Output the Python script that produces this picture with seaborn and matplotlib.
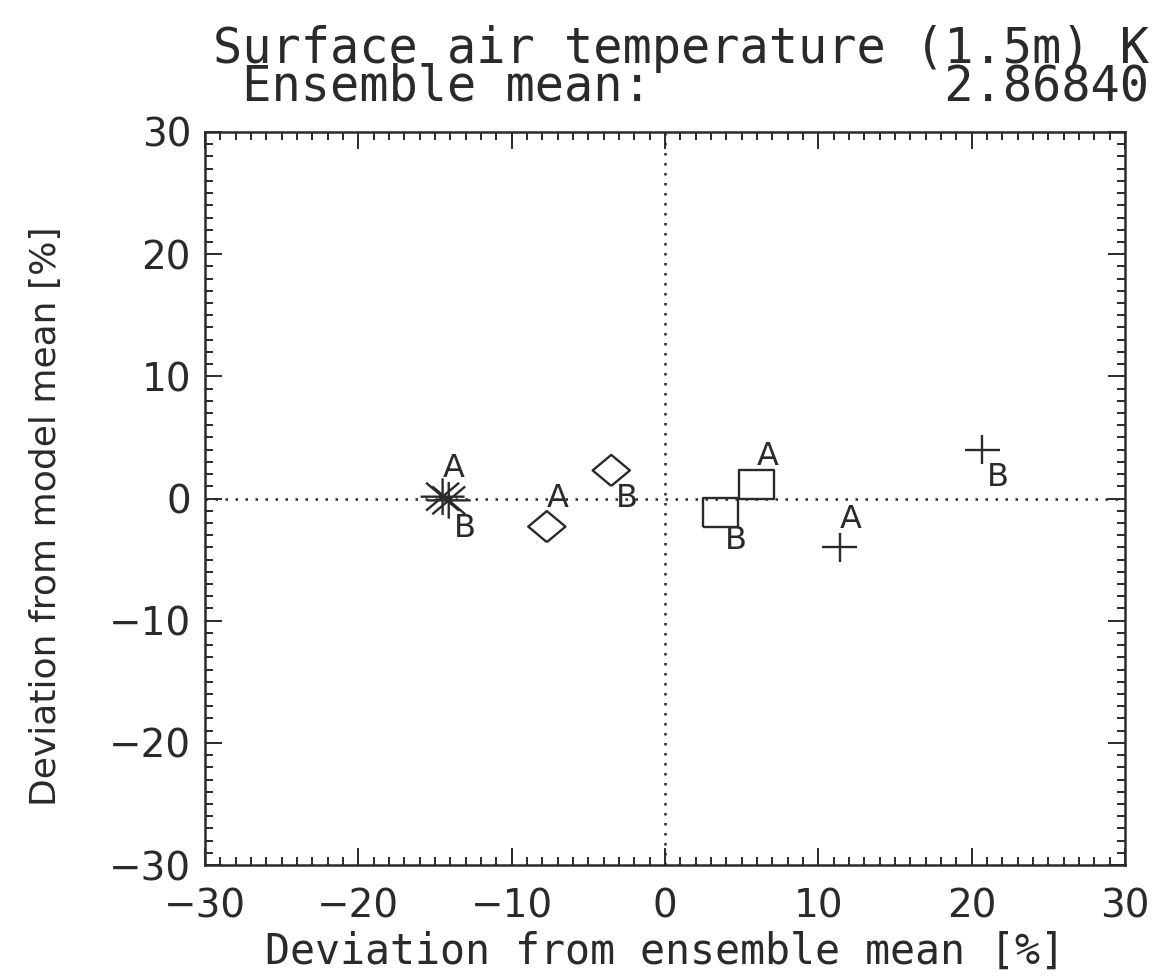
import matplotlib
matplotlib.use('Agg')
import matplotlib.pyplot as plt
import seaborn as sns
import pandas as pd
from matplotlib.path import Path
from matplotlib.ticker import MultipleLocator

# pairs of runs (A / B) for each model symbol
models = ['asterisk', 'diamond', 'square', 'plus']
x_a = [-14.5, -7.7, 6.0, 11.4]
y_a = [0.15, -2.3, 1.15, -4.0]
x_b = [-14.1, -3.5, 3.6, 20.7]
y_b = [-0.15, 2.3, -1.15, 4.0]

title_line1 = 'Surface air temperature (1.5m) K'
title_label = 'Ensemble mean:'
title_value = '2.86840'

sns.set_theme(style='white')
plt.rcParams['font.family'] = ['DejaVu Sans']
ink = '#2a2a2a'
wide = 'DejaVu Sans Mono'   # wider letter spacing, closer to the old IDL font

df = pd.DataFrame({
    'model': models * 2,
    'run': ['A'] * 4 + ['B'] * 4,
    'x': x_a + x_b,
    'y': y_a + y_b,
})

# symbols a bit wider than tall, like the scanned figure
M, L = Path.MOVETO, Path.LINETO
sq = Path([(-0.6, -0.5), (0.6, -0.5), (0.6, 0.5), (-0.6, 0.5), (-0.6, -0.5)])
dm = Path([(0, -0.5), (0.6, 0), (0, 0.5), (-0.6, 0), (0, -0.5)])
pl = Path([(-0.6, 0), (0.6, 0), (0, -0.5), (0, 0.5)], [M, L, M, L])
ast = Path([(-0.6, 0), (0.6, 0), (0, -0.5), (0, 0.5),
            (-0.45, -0.38), (0.45, 0.38), (-0.45, 0.38), (0.45, -0.38)],
           [M, L, M, L, M, L, M, L])
marker_map = {'asterisk': ast, 'diamond': dm, 'square': sq, 'plus': pl}
size_map = {'asterisk': 1000, 'diamond': 720, 'square': 640, 'plus': 640}

fig = plt.figure(figsize=(11.56, 9.77), dpi=100)
ax = fig.add_axes([0.1773, 0.1146, 0.7958, 0.7503])

for m in models:
    sub = df[df['model'] == m]
    sns.scatterplot(data=sub, x='x', y='y', marker=marker_map[m], s=size_map[m],
                    facecolor='none', edgecolor=ink, linewidth=1.7, ax=ax, legend=False)

for _, r in df.iterrows():
    if r['run'] == 'A':
        off = (11, 28)
    else:
        off = (16, -28)
    ax.annotate(r['run'], (r['x'], r['y']), xytext=off, textcoords='offset pixels',
                ha='center', va='center', fontsize=23, color=ink)

ax.axhline(0, color=ink, lw=1.8, ls=(0, (1, 3)), zorder=0)
ax.axvline(0, color=ink, lw=1.8, ls=(0, (1, 3)), zorder=0)

ax.set_xlim(-30, 30)
ax.set_ylim(-30, 30)
ax.xaxis.set_major_locator(MultipleLocator(10))
ax.yaxis.set_major_locator(MultipleLocator(10))
ax.xaxis.set_minor_locator(MultipleLocator(1))
ax.yaxis.set_minor_locator(MultipleLocator(1))
ax.tick_params(which='both', direction='in', top=True, right=True, bottom=True, left=True,
               color=ink, width=1.4, labelsize=28, labelcolor=ink)
ax.tick_params(which='major', length=12)
ax.tick_params(which='minor', length=5.5)
ax.tick_params(axis='x', which='major', pad=16)
ax.tick_params(axis='y', which='major', pad=10)
for s in ax.spines.values():
    s.set_color(ink)
    s.set_linewidth(1.8)

ax.set_xlabel('Deviation from ensemble mean [%]', fontsize=30, family=wide, color=ink, labelpad=4)
ax.set_ylabel('Deviation from model mean [%]', fontsize=26, color=ink)
ax.yaxis.set_label_coords(-0.154, 0.476)

# two-line header, second line padded so the value sits flush right
gap = ' ' * (len(title_line1) - 1 - len(title_label) - len(title_value))
header = title_line1 + '\n ' + title_label + gap + title_value
fig.text(0.184, 0.8976, header, ha='left', va='baseline', multialignment='left',
         fontsize=35, family=wide, color=ink, linespacing=0.72)

fig.savefig('out.png', dpi=100, facecolor='white')
